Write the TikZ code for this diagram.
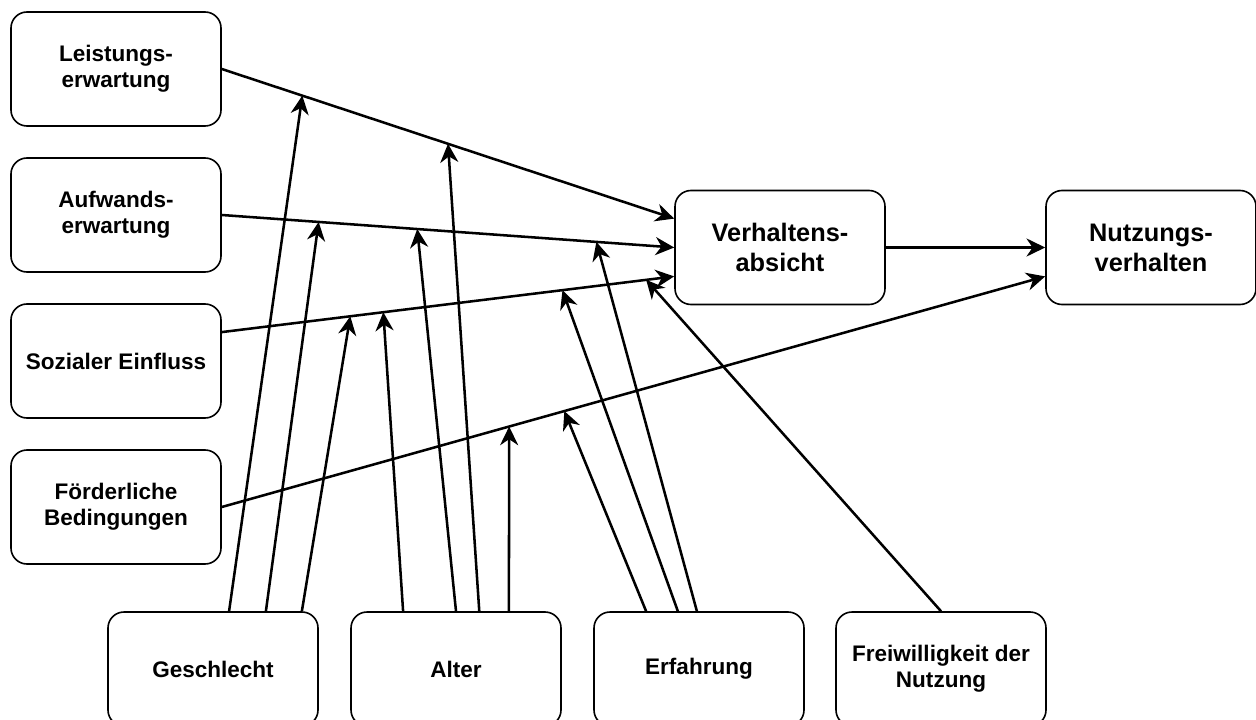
\documentclass[tikz,border=0pt]{standalone}
\usepackage{fontspec}
\setmainfont{Liberation Sans}
\usetikzlibrary{arrows.meta,calc}

\tikzstyle{factor} = [draw=black, line width=1.2pt, rectangle, rounded corners=12pt, minimum width=157.5pt, minimum height=85.5pt, inner sep=0pt, align=center, font=\bfseries\fontsize{16.9}{19.5}\selectfont]
\tikzstyle{target} = [factor, font=\bfseries\fontsize{19}{22.5}\selectfont]
\tikzstyle{link} = [line width=1.9pt, -{Stealth[length=14pt, width=13.5pt, inset=4.5pt]}]

\begin{document}
\begin{tikzpicture}[x=0.75pt, y=-0.75pt]
\useasboundingbox (0,0) rectangle (1256,720);
\node[factor] (perf) at (116,69) {Leistungs-\\erwartung};
\node[factor] (effort) at (116,215) {Aufwands-\\erwartung};
\node[factor] (social) at (116,361) {Sozialer Einfluss};
\node[factor] (cond) at (116,507) {Förderliche\\Bedingungen};
\node[target] (intent) at (780,247.5) {Verhaltens-\\absicht};
\node[target] (usage) at (1151,247.5) {Nutzungs-\\verhalten};
\node[factor] (gender) at (213,669) {Geschlecht};
\node[factor] (age) at (456,669) {Alter};
\node[factor] (exp) at (699,669) {Erfahrung\strut};
\node[factor] (vol) at (941,669) {Freiwilligkeit der\\Nutzung};

\coordinate (intent-a) at ($(intent.north west)!0.25!(intent.south west)$);
\coordinate (intent-c) at ($(intent.north west)!0.75!(intent.south west)$);
\coordinate (social-a) at ($(social.north east)!0.25!(social.south east)$);
\coordinate (usage-c) at ($(usage.north west)!0.75!(usage.south west)$);

\draw[link] (perf.east) -- coordinate[pos=0.178] (p1) coordinate[pos=0.5] (p2) (intent-a);
\draw[link] (effort.east) -- coordinate[pos=0.214] (e1) coordinate[pos=0.432] (e2) coordinate[pos=0.828] (e3) (intent.west);
\draw[link] (social-a) -- coordinate[pos=0.284] (s1) coordinate[pos=0.357] (s2) coordinate[pos=0.753] (s3) coordinate[pos=0.938] (s4) (intent-c);
\draw[link] (cond.east) -- coordinate[pos=0.349] (c1) coordinate[pos=0.416] (c2) (usage-c);
\draw[link] (intent) -- (usage);

\draw[link] ($(gender.north west)!0.576!(gender.north east)$) -- (p1);
\draw[link] ($(gender.north west)!0.75!(gender.north east)$) -- (e1);
\draw[link] ($(gender.north west)!0.92!(gender.north east)$) -- (s1);
\draw[link] ($(age.north west)!0.25!(age.north east)$) -- (s2);
\draw[link] ($(age.north west)!0.5!(age.north east)$) -- (e2);
\draw[link] ($(age.north west)!0.61!(age.north east)$) -- (p2);
\draw[link] ($(age.north west)!0.75!(age.north east)$) -- (c1);
\draw[link] ($(exp.north west)!0.25!(exp.north east)$) -- (c2);
\draw[link] ($(exp.north west)!0.4!(exp.north east)$) -- (s3);
\draw[link] ($(exp.north west)!0.49!(exp.north east)$) -- (e3);
\draw[link] (vol.north) -- (s4);
\end{tikzpicture}
\end{document}
